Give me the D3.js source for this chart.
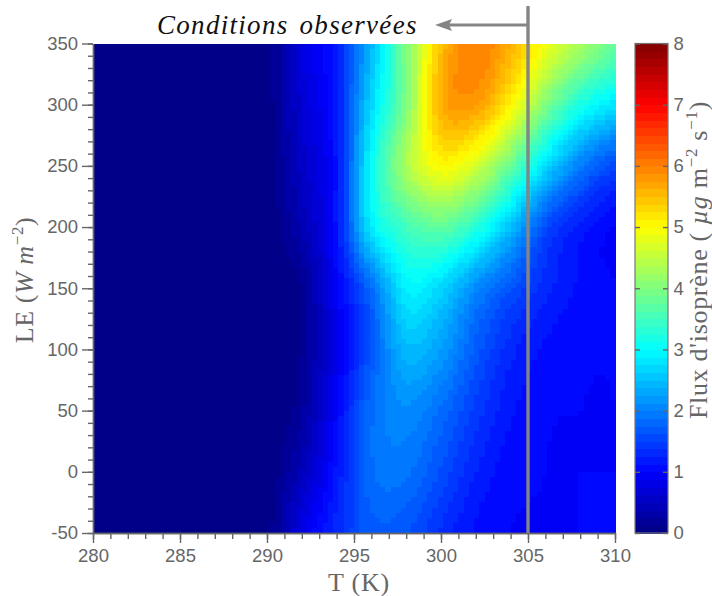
<!DOCTYPE html>
<html><head><meta charset="utf-8">
<script src="https://cdnjs.cloudflare.com/ajax/libs/d3/7.8.5/d3.min.js"></script>
<style>html,body{margin:0;padding:0;background:#fff}svg{display:block}</style>
</head><body><svg id="c" width="712" height="596"></svg>
<script>
const temps = [280,282,284,286,288,290,292,294,296,298,300,302,304,306,308,310];
const fluxLevels = [350,300,250,200,150,100,50,0,-50];
const flux350 = [0,0,0,0,0,0.05,0.75,1.25,2.45,4.0,5.5,6.0,5.6,4.9,4.3,3.8];
const flux300 = [0,0,0,0,0,0.05,0.65,1.2,2.7,4.0,5.6,5.75,5.05,4.0,3.2,2.8];
const flux250 = [0,0,0,0,0,0.03,0.55,1.15,3.0,4.3,5.0,4.65,3.8,2.75,2.0,1.55];
const flux200 = [0,0,0,0,0,0.02,0.4,1.15,2.85,3.5,3.75,3.3,2.5,1.6,1.2,1.0];
const flux150 = [0,0,0,0,0,0.01,0.15,0.95,1.85,2.9,2.7,2.1,1.65,1.3,1.1,1];
const flux100 = [0,0,0,0,0,0.01,0.15,0.85,1.7,2.45,2.25,1.7,1.3,1.1,1.02,1];
const flux50  = [0,0,0,0,0,0.01,0.22,1.0,1.85,2.1,1.85,1.45,1.15,1.02,1,1];
const flux0   = [0,0,0,0,0,0.02,0.45,1.15,1.85,1.9,1.6,1.25,1.05,1,1,1];
const fluxM50 = [0,0,0,0,0,0.04,0.8,1.3,1.7,1.65,1.35,1.1,1,1,1,1];
const xTicks = [280,285,290,295,300,305,310];
const yTicks = [-50,0,50,100,150,200,250,300,350];
const cTicks = [0,1,2,3,4,5,6,7,8];
const observedT = 305;
const grid = [flux350,flux300,flux250,flux200,flux150,flux100,flux50,flux0,fluxM50];

const L=93,R=615,T=43.5,B=533,BL=635,BR=668;
const grey="#666666", serif="'Liberation Serif','DejaVu Serif',serif", sans="'Liberation Sans',Arial,sans-serif";
const svg=d3.select("#c");
const x=d3.scaleLinear().domain([280,310]).range([L,R]);
const y=d3.scaleLinear().domain([-50,350]).range([B,T]);
const yc=d3.scaleLinear().domain([0,8]).range([B,T]);
const jet=d3.scaleLinear().domain([0,1,3,5,7,8]).range(["#000080","#0000ff","#00ffff","#ffff00","#ff0000","#800000"]).clamp(true);
const band=v=>jet((Math.min(63,Math.floor(Math.max(0,v)*8))+0.5)/8);

function cr(p0,p1,p2,p3,t){return 0.5*((2*p1)+(-p0+p2)*t+(2*p0-5*p1+4*p2-p3)*t*t+(-p0+3*p1-3*p2+p3)*t*t*t);}
const ti=d3.scaleLinear().domain([280,310]).range([0,temps.length-1]);
const li=d3.scaleLinear().domain([350,-50]).range([0,fluxLevels.length-1]);
function sample(tv,le){
  const u=ti(tv),w=li(le);
  const iu=Math.min(temps.length-2,Math.floor(u)),iw=Math.min(fluxLevels.length-2,Math.floor(w));
  const fu=u-iu,fw=w-iw;
  const rows=[-1,0,1,2].map(dj=>{
    const r=grid[Math.max(0,Math.min(grid.length-1,iw+dj))];
    const g=k=>r[Math.max(0,Math.min(r.length-1,iu+k))];
    return cr(g(-1),g(0),g(1),g(2),fu);
  });
  return cr(rows[0],rows[1],rows[2],rows[3],fw);
}
// heat map
const nx=100,ny=96;
const cells=[];
for(let j=0;j<ny;j++)for(let i=0;i<nx;i++){
  const t0=280+30*i/nx,t1=280+30*(i+1)/nx,l1=350-400*j/ny,l0=350-400*(j+1)/ny;
  cells.push({t0,t1,l0,l1,v:sample((t0+t1)/2,(l0+l1)/2)});
}
svg.append("g").attr("shape-rendering","crispEdges").selectAll("rect").data(cells).join("rect")
  .attr("x",d=>x(d.t0)).attr("y",d=>y(d.l1))
  .attr("width",d=>x(d.t1)-x(d.t0)+0.6).attr("height",d=>y(d.l0)-y(d.l1)+0.6)
  .attr("fill",d=>band(d.v));

// axes
const plainInt=d=>String(d);
function style(g){g.selectAll("path,line").attr("stroke",grey).attr("stroke-width",1.4);
  g.selectAll("text").attr("fill",grey).attr("font-family",sans).attr("font-size",18.5);}
style(svg.append("g").attr("transform",`translate(0,${B})`).call(d3.axisBottom(x).ticks(30).tickSize(6).tickFormat("").tickSizeOuter(0)));
style(svg.append("g").attr("transform",`translate(0,${B})`).call(d3.axisBottom(x).tickValues(xTicks).tickSize(10).tickPadding(6).tickFormat(plainInt).tickSizeOuter(0)));
style(svg.append("g").attr("transform",`translate(${L},0)`).call(d3.axisLeft(y).tickValues(d3.range(-50,351,10)).tickSize(5).tickFormat("").tickSizeOuter(0)));
style(svg.append("g").attr("transform",`translate(${L},0)`).call(d3.axisLeft(y).tickValues(yTicks).tickSize(11).tickPadding(4).tickFormat(plainInt).tickSizeOuter(0)));

// colour bar
svg.append("g").attr("shape-rendering","crispEdges").selectAll("rect").data(d3.range(64)).join("rect")
  .attr("x",BL).attr("width",BR-BL)
  .attr("y",d=>yc((d+1)/8)).attr("height",d=>yc(d/8)-yc((d+1)/8)+0.6)
  .attr("fill",d=>band(d/8+0.001));
svg.append("rect").attr("x",BL).attr("y",T).attr("width",BR-BL).attr("height",B-T).attr("fill","none").attr("stroke","#777").attr("stroke-width",1.2);
const cg=svg.append("g").attr("transform",`translate(${BR},0)`).call(d3.axisRight(yc).tickValues(cTicks).tickSize(-5).tickPadding(11).tickFormat(plainInt).tickSizeOuter(0));
style(cg); cg.select("path").remove();
cg.selectAll("text").attr("x",5.5);
const cl2=svg.append("g").attr("transform",`translate(${BL},0)`).call(d3.axisLeft(yc).tickValues(cTicks).tickSize(-5).tickFormat("").tickSizeOuter(0));
style(cl2); cl2.select("path").remove();

// observed line & arrow
const lineGrey="#858585";
svg.append("line").attr("x1",x(observedT)).attr("x2",x(observedT)).attr("y1",6).attr("y2",B).attr("stroke",lineGrey).attr("stroke-width",3.4);
svg.append("line").attr("x1",x(observedT)).attr("x2",448).attr("y1",25).attr("y2",25).attr("stroke",lineGrey).attr("stroke-width",3);
svg.append("path").attr("d","M435,25L452,19L449,25L452,31Z").attr("fill",lineGrey);

svg.append("text").attr("x",157).attr("y",34).attr("font-family",serif).attr("font-style","italic").attr("font-size",27).attr("letter-spacing",1.3).attr("word-spacing",3).attr("fill","#111").text("Conditions observées");
svg.append("text").attr("x",359).attr("y",591).attr("text-anchor","middle").attr("font-family",serif).attr("font-size",26).attr("letter-spacing",0.8).attr("fill",grey).text("T (K)");
const yl=svg.append("text").attr("transform","translate(33,280) rotate(-90)").attr("text-anchor","middle").attr("font-family",serif).attr("font-size",26).attr("letter-spacing",0.6).attr("fill",grey);
yl.append("tspan").text("LE (");
yl.append("tspan").attr("font-style","italic").text("W m");
yl.append("tspan").attr("dy",-10).attr("font-size",17).text("−2");
yl.append("tspan").attr("dy",10).text(")");
const cl=svg.append("text").attr("transform","translate(707,260) rotate(-90)").attr("text-anchor","middle").attr("font-family",serif).attr("font-size",26).attr("letter-spacing",0.7).attr("fill",grey);
cl.append("tspan").text("Flux d'isoprène ( ");
cl.append("tspan").attr("font-style","italic").text("µg");
cl.append("tspan").text(" m");
cl.append("tspan").attr("dy",-10).attr("font-size",17).text("−2");
cl.append("tspan").attr("dy",10).text(" s");
cl.append("tspan").attr("dy",-10).attr("font-size",17).text("−1");
cl.append("tspan").attr("dy",10).text(")");
</script></body></html>
